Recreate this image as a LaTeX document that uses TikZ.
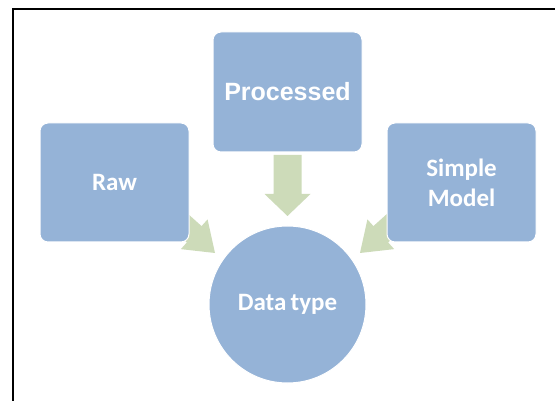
\documentclass[tikz,border=0pt]{standalone}
\usepackage{fontspec}
\setmainfont{Carlito}
\newfontfamily\arialfont{Liberation Sans}
\definecolor{boxblue}{HTML}{95B3D7}
\definecolor{arrgreen}{HTML}{CDDBB9}
\tikzset{
  box/.style={fill=boxblue, draw=white, line width=1pt, rounded corners=8pt,
    minimum width=149pt, minimum height=119pt, inner sep=0pt,
    text=white, font=\fontsize{25}{30}\selectfont\bfseries, align=center},
  hub/.style={circle, fill=boxblue, draw=white, line width=1pt,
    minimum size=157pt, inner sep=0pt, text=white,
    font=\fontsize{25}{30}\selectfont\bfseries},
  blockarrow/.style={fill=arrgreen},
  frameline/.style={line width=2pt, black}
}
\begin{document}
\begin{tikzpicture}[x=1pt,y=-1pt]
\useasboundingbox (0,0) rectangle (555,401);
\draw[frameline] (13,401) -- (13,9) -- (555,9);
% tips of block arrows
\coordinate (tipL) at (215,253);
\coordinate (tipR) at (360,253);
\coordinate (tipD) at (287.5,216);
% block arrows (drawn before boxes so boxes cover their tails)
\begin{scope}[shift={(tipD)}, rotate=-90]
  \fill[blockarrow] (0,0) -- (-22,-23) -- (-22,-14) -- (-61,-14) -- (-61,14) -- (-22,14) -- (-22,23) -- cycle;
\end{scope}
\begin{scope}[shift={(tipL)}, rotate=-42]
  \fill[blockarrow] (0,0) -- (-28,-20) -- (-28,-11) -- (-60,-11) -- (-60,11) -- (-28,11) -- (-28,20) -- cycle;
\end{scope}
\begin{scope}[shift={(tipR)}, rotate=-138]
  \fill[blockarrow] (0,0) -- (-28,-20) -- (-28,-11) -- (-60,-11) -- (-60,11) -- (-28,11) -- (-28,20) -- cycle;
\end{scope}
% boxes
\node[box] (raw) at (114.5,182.5) {Raw};
\node[box, minimum height=120pt, font=\arialfont\fontsize{25}{30}\selectfont\bfseries] (proc) at (287.5,92) {Processed};
\node[box] (simple) at (461.5,182.5) {Simple\\Model};
\node[hub] (data) at (287.5,304.5) {Data\,type};
\end{tikzpicture}
\end{document}
